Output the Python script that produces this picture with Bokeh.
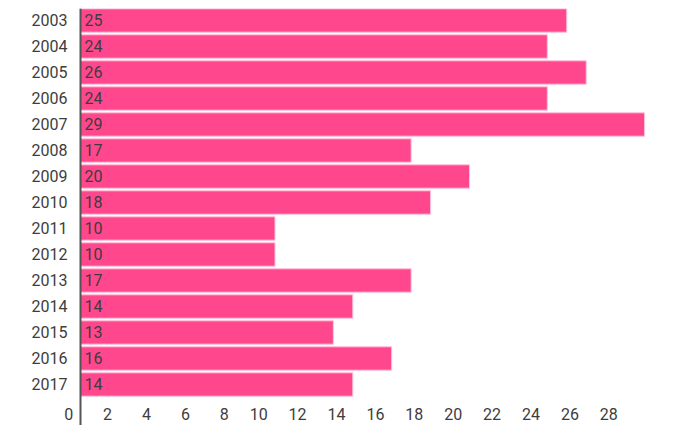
from bokeh.plotting import figure
from bokeh.models import Range1d, FixedTicker, Span, ColumnDataSource
from bokeh.core.properties import value
from bokeh.embed import file_html
from bokeh.resources import INLINE

years = ["2003", "2004", "2005", "2006", "2007", "2008", "2009", "2010",
         "2011", "2012", "2013", "2014", "2015", "2016", "2017"]
counts = [25, 24, 26, 24, 29, 17, 20, 18, 10, 10, 17, 14, 13, 16, 14]
x_tick_values = [0, 2, 4, 6, 8, 10, 12, 14, 16, 18, 20, 22, 24, 26, 28]

PINK = "#ff478d"
TEXT = "#3d3d3d"
FONT = "Roboto"
PX_PER_UNIT = 19.45

idx = list(range(len(years)))
src = ColumnDataSource(dict(y=idx, right=counts, label=[str(c) for c in counts]))

p = figure(frame_width=600, frame_height=417,
           x_range=Range1d(-13 / PX_PER_UNIT, -13 / PX_PER_UNIT + 600 / PX_PER_UNIT),
           y_range=Range1d(15.577, -0.4615),
           output_backend="svg", toolbar_location=None,
           min_border_left=67, min_border_right=0,
           min_border_top=8, min_border_bottom=0)
p.outline_line_color = None
p.grid.visible = False
p.background_fill_color = "white"
p.border_fill_color = "white"

p.hbar(y="y", left=0, right="right", height=0.9, source=src,
       fill_color=PINK, line_color="#ffc2d9", line_width=1)

p.text(x=0, y="y", text="label", source=src, x_offset=4,
       text_align="left", text_baseline="middle",
       text_font=value(FONT), text_font_size="16px", text_color=TEXT)

p.add_layout(Span(location=0, dimension="height", line_color="#555555", line_width=2))

# y axis: years
yax = p.yaxis[0]
yax.ticker = FixedTicker(ticks=idx)
yax.major_label_overrides = {i: y for i, y in zip(idx, years)}
yax.axis_line_color = None
yax.major_tick_line_color = None
yax.minor_tick_line_color = None
yax.major_tick_out = 0
yax.major_tick_in = 0
yax.major_label_standoff = 0
yax.major_label_text_font = FONT
yax.major_label_text_font_size = "16px"
yax.major_label_text_color = TEXT

# x axis: labels right-aligned slightly left of each tick value
tick_pos = [v + (-7.3 - 4.5 * len(str(v))) / PX_PER_UNIT for v in x_tick_values]
xax = p.xaxis[0]
xax.ticker = FixedTicker(ticks=tick_pos)
xax.major_label_overrides = {t: str(v) for t, v in zip(tick_pos, x_tick_values)}
xax.axis_line_color = None
xax.major_tick_line_color = None
xax.minor_tick_line_color = None
xax.major_tick_out = 0
xax.major_tick_in = 0
xax.major_label_standoff = -18
xax.major_label_text_font = FONT
xax.major_label_text_font_size = "16px"
xax.major_label_text_color = TEXT

open("out.html", "w").write(file_html(p, INLINE))
